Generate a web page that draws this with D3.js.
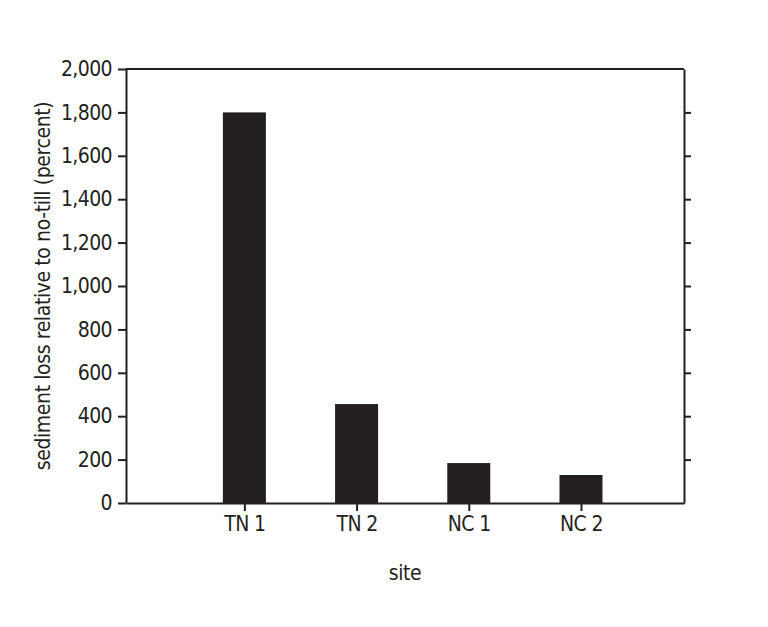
<!DOCTYPE html>
<html>
<head>
    <meta charset="utf-8">
    <style type="text/css">
        body { margin: 0; background: #fff; }
        #mySvg { width: 768px; height: 627px; display: block; }
        text {
            font-family: "Liberation Sans Narrow", "DejaVu Sans Condensed", sans-serif;
            fill: #231f20;
        }
        .axis text { font-size: 21px; letter-spacing: -0.6px; }
        .axis path, .axis line { stroke: #231f20; stroke-width: 2px; }
        rect.bar { fill: #231f20; }
        .title { font-size: 21px; letter-spacing: -0.4px; text-anchor: middle; }
    </style>
    <script src="https://d3js.org/d3.v7.min.js"></script>
</head>
<body>
    <svg id="mySvg"></svg>
<script type="text/javascript">
// values
const sites = ['TN 1', 'TN 2', 'NC 1', 'NC 2'];
const sedimentLoss = [1800, 456, 184, 129];
const yTicks = [0, 200, 400, 600, 800, 1000, 1200, 1400, 1600, 1800, 2000];

const plotLeft = 126, plotRight = 684, plotTop = 69, plotBottom = 503;

const svg = d3.select('#mySvg');

// sites sit at 1..4 on a numeric axis, with a bit of room either side
const x = d3.scaleLinear()
    .domain([-0.055, 4.918])
    .range([plotLeft, plotRight]);

const y = d3.scaleLinear()
    .domain([0, 2000])
    .range([plotBottom, plotTop]);

const barWidth = 43;

svg.append('g')
    .selectAll('rect')
    .data(sedimentLoss)
    .enter()
    .append('rect')
    .attr('class', 'bar')
    .attr('x', (d, i) => x(i + 1) - barWidth / 2)
    .attr('y', d => y(d))
    .attr('width', barWidth)
    .attr('height', d => y(0) - y(d));

// left axis
svg.append('g')
    .attr('class', 'axis')
    .attr('transform', 'translate(' + plotLeft + ',0)')
    .call(d3.axisLeft(y).tickValues(yTicks).tickSize(8).tickPadding(6).tickSizeOuter(0)
        .tickFormat(d3.format(',')));

// right axis: ticks only
svg.append('g')
    .attr('class', 'axis')
    .attr('transform', 'translate(' + plotRight + ',0)')
    .call(d3.axisRight(y).tickValues(yTicks.slice(1, -1)).tickSize(7).tickSizeOuter(0).tickFormat(''));

// bottom axis
svg.append('g')
    .attr('class', 'axis')
    .attr('transform', 'translate(0,' + plotBottom + ')')
    .call(d3.axisBottom(x).tickValues([1, 2, 3, 4]).tickSize(8).tickPadding(5).tickSizeOuter(0)
        .tickFormat(d => sites[d - 1]));

// top border
svg.append('line')
    .attr('x1', plotLeft).attr('x2', plotRight)
    .attr('y1', plotTop).attr('y2', plotTop)
    .style('stroke', '#231f20').style('stroke-width', '2px');

svg.append('text')
    .attr('class', 'title')
    .attr('x', (plotLeft + plotRight) / 2)
    .attr('y', 580)
    .text('site');

svg.append('text')
    .attr('class', 'title')
    .attr('transform', 'translate(50,' + (plotTop + plotBottom) / 2 + ') rotate(-90)')
    .text('sediment loss relative to no-till (percent)');
</script>
</body>
</html>
